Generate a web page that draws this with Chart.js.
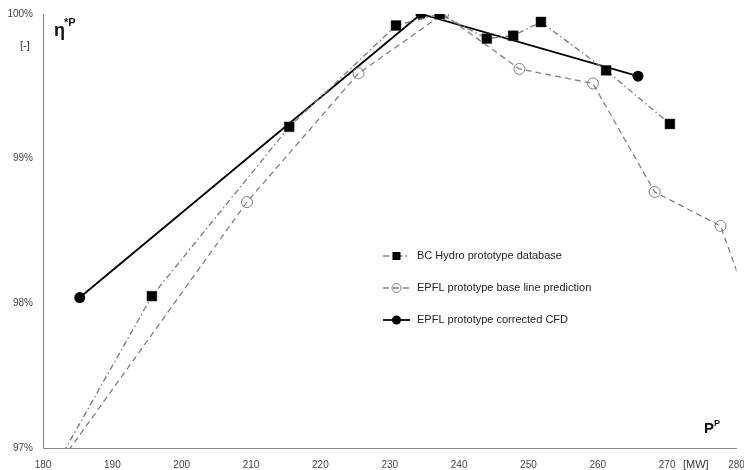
<!DOCTYPE html>
<html>
<head>
<meta charset="utf-8">
<script src="https://cdn.jsdelivr.net/npm/chart.js@4/dist/chart.umd.min.js"></script>
<style>
  html, body { margin: 0; padding: 0; background: #fff; }
  #wrap { position: relative; width: 744px; height: 470px; }
</style>
</head>
<body>
<div id="wrap"><canvas id="effChart" width="744" height="470"></canvas></div>
<script>
// values, [MW, %]
const bcHydroX = [182.0, 195.7, 215.5, 230.9, 237.2, 244.0, 247.8, 251.8, 261.2, 270.4];
const bcHydroY = [96.89, 98.05, 99.22, 99.92, 100.0, 99.83, 99.85, 99.945, 99.61, 99.24];
const baseLineX = [182.0, 209.4, 225.5, 237.7, 248.7, 259.3, 268.2, 277.7, 282.0];
const baseLineY = [96.87, 98.70, 99.59, 100.0, 99.62, 99.52, 98.77, 98.535, 97.96];
const cfdX = [185.3, 234.5, 265.8];
const cfdY = [98.04, 100.0, 99.57];
const xTicks = [180, 190, 200, 210, 220, 230, 240, 250, 260, 270, 280];
const yTicks = [97, 98, 99, 100];

const pts = (xs, ys) => xs.map((x, i) => ({ x, y: ys[i] }));
const GREY = '#808080';
const FONT = '"Liberation Sans", Arial, sans-serif';

const datasets = [
  { label: 'BC Hydro prototype database', data: pts(bcHydroX, bcHydroY),
    borderColor: GREY, borderWidth: 1.4, borderDash: [6, 3, 1.5, 3],
    pointStyle: 'rect', pointRadius: 7, pointBackgroundColor: '#000', pointBorderColor: '#333', pointBorderWidth: 0.5 },
  { label: 'EPFL prototype base line prediction', data: pts(baseLineX, baseLineY),
    borderColor: GREY, borderWidth: 1.3, borderDash: [6, 4],
    pointStyle: 'circle', pointRadius: 5.5, pointBackgroundColor: 'rgba(0,0,0,0)', pointBorderColor: GREY, pointBorderWidth: 1 },
  { label: 'EPFL prototype corrected CFD', data: pts(cfdX, cfdY),
    borderColor: '#000', borderWidth: 1.8,
    pointStyle: 'circle', pointRadius: 5.5, pointBackgroundColor: '#000', pointBorderColor: '#000', pointBorderWidth: 0 }
];

// legend drawn inside the plot, plus the axis labels
const extras = {
  id: 'extras',
  afterDraw(chart) {
    const ctx = chart.ctx;
    ctx.save();
    chart.data.datasets.forEach((ds, i) => {
      const y = 256 + i * 32;
      ctx.strokeStyle = ds.borderColor;
      ctx.lineWidth = ds.borderWidth;
      ctx.setLineDash(ds.borderDash || []);
      ctx.beginPath(); ctx.moveTo(383, y); ctx.lineTo(410, y); ctx.stroke();
      ctx.setLineDash([]);
      const cx = 396.5;
      if (ds.pointStyle === 'rect') {
        ctx.fillStyle = '#000';
        ctx.fillRect(cx - 4, y - 4, 8, 8);
      } else {
        ctx.beginPath(); ctx.arc(cx, y, 4.5, 0, Math.PI * 2);
        if (ds.pointBorderWidth) { ctx.strokeStyle = ds.pointBorderColor; ctx.lineWidth = 1; ctx.stroke(); }
        else { ctx.fillStyle = '#000'; ctx.fill(); }
      }
      ctx.fillStyle = '#222';
      ctx.font = '11px ' + FONT;
      ctx.textBaseline = 'middle';
      ctx.textAlign = 'left';
      ctx.fillText(ds.label, 417, y);
    });

    ctx.fillStyle = '#111';
    ctx.textBaseline = 'alphabetic';
    ctx.font = 'bold 18px ' + FONT;
    ctx.fillText('η', 54, 36);
    ctx.font = 'bold 11px ' + FONT;
    ctx.fillText('*P', 64, 26);
    ctx.font = '11px ' + FONT;
    ctx.fillStyle = '#333';
    ctx.fillText('[-]', 20, 49);

    ctx.fillStyle = '#111';
    ctx.font = 'bold 15px ' + FONT;
    ctx.fillText('P', 704, 433);
    ctx.font = 'bold 9px ' + FONT;
    ctx.fillText('P', 714, 426);
    ctx.font = '11px ' + FONT;
    ctx.fillStyle = '#333';
    ctx.fillText('[MW]', 683, 468);
    ctx.restore();
  }
};

new Chart(document.getElementById('effChart'), {
  type: 'line',
  data: { datasets },
  plugins: [extras],
  options: {
    responsive: false,
    animation: false,
    layout: { padding: { top: 14, right: 6, left: 0, bottom: 0 } },
    plugins: { legend: { display: false }, tooltip: { enabled: false } },
    scales: {
      x: {
        type: 'linear', min: 180, max: 280,
        afterBuildTicks: s => { s.ticks = xTicks.map(v => ({ value: v })); },
        afterFit: s => { s.height = 22; s.paddingLeft = 0; s.paddingRight = 0; },
        grid: { display: false, drawTicks: true, tickLength: 3, color: '#999' },
        border: { color: '#888', width: 1 },
        ticks: { color: '#444', font: { size: 10, family: FONT }, padding: 8, maxRotation: 0 }
      },
      y: {
        min: 97, max: 100,
        afterBuildTicks: s => { s.ticks = yTicks.map(v => ({ value: v })); },
        afterFit: s => { s.width = 43; },
        grid: { display: false, drawTicks: true, tickLength: 4, color: '#999' },
        border: { color: '#888', width: 1 },
        ticks: { color: '#444', font: { size: 10, family: FONT }, padding: 6, callback: v => v + '%' }
      }
    }
  }
});
</script>
</body>
</html>
